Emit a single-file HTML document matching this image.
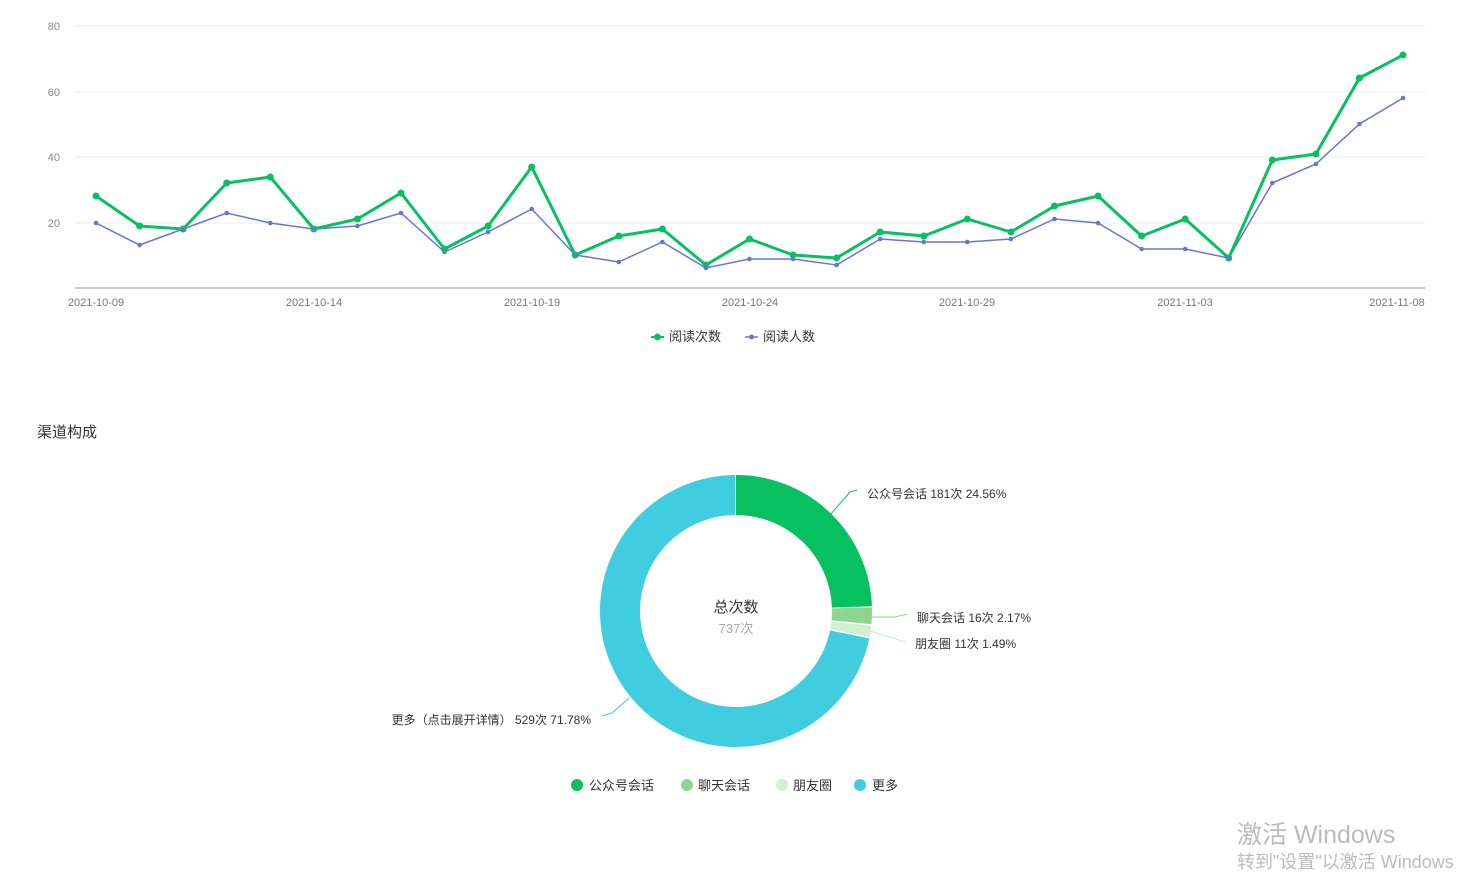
<!DOCTYPE html>
<html><head><meta charset="utf-8"><style>
body{margin:0;background:#fff;width:1461px;height:873px;overflow:hidden;font-family:"Liberation Sans","Noto Sans CJK SC",sans-serif;}
</style></head><body>
<svg width="1461" height="873" xmlns="http://www.w3.org/2000/svg" style="position:absolute;left:0;top:0;font-family:'Liberation Sans','Noto Sans CJK SC',sans-serif">
<g stroke="#eee" stroke-width="1">
<line x1="75" y1="26" x2="1425" y2="26"/><line x1="75" y1="92" x2="1425" y2="92"/><line x1="75" y1="157" x2="1425" y2="157"/><line x1="75" y1="223" x2="1425" y2="223"/>
</g>
<line x1="75" y1="288" x2="1425" y2="288" stroke="#c8c8c8" stroke-width="2"/>
<g fill="#888" font-size="11" text-anchor="end">
<text x="60" y="30">80</text><text x="60" y="96">60</text><text x="60" y="161">40</text><text x="60" y="227">20</text>
</g>
<g fill="#777" font-size="11" text-anchor="middle">
<text x="96" y="306">2021-10-09</text><text x="314" y="306">2021-10-14</text><text x="532" y="306">2021-10-19</text><text x="750" y="306">2021-10-24</text><text x="967" y="306">2021-10-29</text><text x="1185" y="306">2021-11-03</text><text x="1397" y="306">2021-11-08</text>
</g>
<polyline fill="none" stroke="#6b74d4" stroke-width="1.5" points="96,223 139.6,245 183.1,229 226.7,213 270.3,223 313.8,229 357.4,226 401,213 444.5,252 488.1,232 531.7,209 575.2,255 618.8,262 662.4,242 705.9,268 749.5,259 793.1,259 836.6,265 880.2,239 923.8,242 967.3,242 1010.9,239 1054.5,219 1098,223 1141.6,249 1185.2,249 1228.7,258 1272.3,183 1315.9,164 1359.4,124 1403,98"/>
<polyline fill="none" stroke="#07c160" stroke-width="3" stroke-linejoin="round" points="96,196 139.6,226 183.1,229 226.7,183 270.3,177 313.8,229 357.4,219 401,193 444.5,249 488.1,226 531.7,167 575.2,255 618.8,236 662.4,229 705.9,265 749.5,239 793.1,255 836.6,258 880.2,232 923.8,236 967.3,219 1010.9,232 1054.5,206 1098,196 1141.6,236 1185.2,219 1228.7,258 1272.3,160 1315.9,154 1359.4,78 1403,55"/>
<g fill="#07c160">
<circle cx="96" cy="196" r="3.5"/><circle cx="139.6" cy="226" r="3.5"/><circle cx="183.1" cy="229" r="3.5"/><circle cx="226.7" cy="183" r="3.5"/><circle cx="270.3" cy="177" r="3.5"/><circle cx="313.8" cy="229" r="3.5"/><circle cx="357.4" cy="219" r="3.5"/><circle cx="401" cy="193" r="3.5"/><circle cx="444.5" cy="249" r="3.5"/><circle cx="488.1" cy="226" r="3.5"/><circle cx="531.7" cy="167" r="3.5"/><circle cx="575.2" cy="255" r="3.5"/><circle cx="618.8" cy="236" r="3.5"/><circle cx="662.4" cy="229" r="3.5"/><circle cx="705.9" cy="265" r="3.5"/><circle cx="749.5" cy="239" r="3.5"/><circle cx="793.1" cy="255" r="3.5"/><circle cx="836.6" cy="258" r="3.5"/><circle cx="880.2" cy="232" r="3.5"/><circle cx="923.8" cy="236" r="3.5"/><circle cx="967.3" cy="219" r="3.5"/><circle cx="1010.9" cy="232" r="3.5"/><circle cx="1054.5" cy="206" r="3.5"/><circle cx="1098" cy="196" r="3.5"/><circle cx="1141.6" cy="236" r="3.5"/><circle cx="1185.2" cy="219" r="3.5"/><circle cx="1228.7" cy="258" r="3.5"/><circle cx="1272.3" cy="160" r="3.5"/><circle cx="1315.9" cy="154" r="3.5"/><circle cx="1359.4" cy="78" r="3.5"/><circle cx="1403" cy="55" r="3.5"/>
</g>
<g fill="#6b74d4">
<circle cx="96" cy="223" r="2.3"/><circle cx="139.6" cy="245" r="2.3"/><circle cx="183.1" cy="229" r="2.3"/><circle cx="226.7" cy="213" r="2.3"/><circle cx="270.3" cy="223" r="2.3"/><circle cx="313.8" cy="229" r="2.3"/><circle cx="357.4" cy="226" r="2.3"/><circle cx="401" cy="213" r="2.3"/><circle cx="444.5" cy="252" r="2.3"/><circle cx="488.1" cy="232" r="2.3"/><circle cx="531.7" cy="209" r="2.3"/><circle cx="575.2" cy="255" r="2.3"/><circle cx="618.8" cy="262" r="2.3"/><circle cx="662.4" cy="242" r="2.3"/><circle cx="705.9" cy="268" r="2.3"/><circle cx="749.5" cy="259" r="2.3"/><circle cx="793.1" cy="259" r="2.3"/><circle cx="836.6" cy="265" r="2.3"/><circle cx="880.2" cy="239" r="2.3"/><circle cx="923.8" cy="242" r="2.3"/><circle cx="967.3" cy="242" r="2.3"/><circle cx="1010.9" cy="239" r="2.3"/><circle cx="1054.5" cy="219" r="2.3"/><circle cx="1098" cy="223" r="2.3"/><circle cx="1141.6" cy="249" r="2.3"/><circle cx="1185.2" cy="249" r="2.3"/><circle cx="1228.7" cy="258" r="2.3"/><circle cx="1272.3" cy="183" r="2.3"/><circle cx="1315.9" cy="164" r="2.3"/><circle cx="1359.4" cy="124" r="2.3"/><circle cx="1403" cy="98" r="2.3"/>
</g>
<!-- line legend -->
<line x1="651" y1="337" x2="664" y2="337" stroke="#07c160" stroke-width="2"/><circle cx="657.5" cy="337" r="3.5" fill="#07c160"/>
<text x="669" y="341" font-size="13" fill="#333">阅读次数</text>
<line x1="745" y1="337" x2="758" y2="337" stroke="#6b74d4" stroke-width="1.5"/><circle cx="751.5" cy="337" r="2.5" fill="#6b74d4"/>
<text x="763" y="341" font-size="13" fill="#333">阅读人数</text>

<text x="37" y="437" font-size="15" fill="#333">渠道构成</text>

<!-- donut -->
<g transform="rotate(-90 736 611)" fill="none" stroke-width="40">
<circle cx="736" cy="611" r="116" stroke="#07c160" stroke-dasharray="178 800" stroke-dashoffset="0"/>
<circle cx="736" cy="611" r="116" stroke="#8fd48f" stroke-dasharray="14.5 800" stroke-dashoffset="-179"/>
<circle cx="736" cy="611" r="116" stroke="#d1f0d1" stroke-dasharray="9.6 800" stroke-dashoffset="-194.8"/>
<circle cx="736" cy="611" r="116" stroke="#41cde0" stroke-dasharray="522 800" stroke-dashoffset="-205.7"/>
</g>
<text x="736" y="612" font-size="15" fill="#333" text-anchor="middle">总次数</text>
<text x="736" y="633" font-size="13" fill="#aaa" text-anchor="middle">737次</text>
<g fill="none" stroke-width="1">
<polyline points="830,515 850,492 857,490" stroke="#07c160"/>
<polyline points="872,617 895,617 907,614" stroke="#8fd48f"/>
<polyline points="870,631 893,638 905,642" stroke="#c5ebc5"/>
<polyline points="629,698 612,713 602,716" stroke="#41cde0"/>
</g>
<g font-size="12" fill="#333">
<text x="867" y="498">公众号会话 181次 24.56%</text>
<text x="917" y="622">聊天会话 16次 2.17%</text>
<text x="915" y="648">朋友圈 11次 1.49%</text>
<text x="591" y="724" text-anchor="end">更多（点击展开详情） 529次 71.78%</text>
</g>
<!-- pie legend -->
<g font-size="13" fill="#333">
<circle cx="577" cy="785" r="6" fill="#07c160"/><text x="589" y="790">公众号会话</text>
<circle cx="687" cy="785" r="6" fill="#8fd48f"/><text x="698" y="790">聊天会话</text>
<circle cx="782" cy="785" r="6" fill="#d1f0d1"/><text x="793" y="790">朋友圈</text>
<circle cx="860" cy="785" r="6" fill="#41cde0"/><text x="872" y="790">更多</text>
</g>
<text x="1237" y="843" font-size="25" fill="#bbb">激活 Windows</text>
<text x="1237" y="868" font-size="18" fill="#bbb">转到"设置"以激活 Windows</text>
</svg>
</body></html>
